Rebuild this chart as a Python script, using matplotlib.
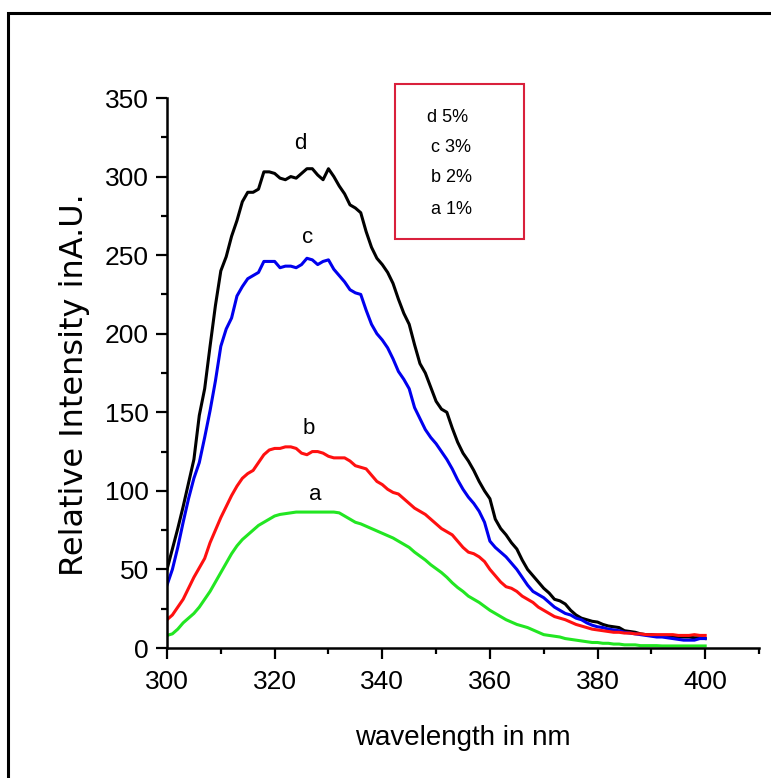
import matplotlib
matplotlib.use("Agg")
import matplotlib.pyplot as plt
from matplotlib.patches import Rectangle
from matplotlib.ticker import MultipleLocator

# wavelength grid, 1 nm steps
wavelength = list(range(300, 401))

# d 5%  (black)
d_5 = [50, 63, 76, 90, 105, 120, 148, 165, 192, 218,
       240, 249, 262, 272, 284, 290, 290, 292, 303, 303,
       302, 299, 298, 300, 299, 302, 305, 305, 301, 298,
       305, 300, 294, 289, 282, 280, 277, 265, 255, 248,
       244, 239, 232, 222, 213, 206, 193, 181, 175, 166,
       157, 152, 150, 140, 131, 124, 119, 113, 106, 100,
       95, 82, 76, 72, 67, 63, 56, 50, 46, 42,
       38, 35, 31, 30, 28, 24, 21, 19, 18, 17,
       16.5, 15, 14, 13.5, 13, 11, 10.5, 10, 9, 8.5,
       8.5, 8, 8, 8, 7.5, 7, 7, 7, 6.5, 6.5, 6]

# c 3%  (blue)
c_3 = [40, 50, 64, 80, 95, 108, 118, 134, 151, 170,
       192, 203, 210, 224, 230, 235, 237, 239, 246, 246,
       246, 242, 243, 243, 242, 244, 248, 247, 244, 246,
       247, 241, 237, 233, 228, 226, 225, 215, 206, 200,
       196, 191, 184, 176, 171, 165, 153, 146, 139, 134,
       130, 125, 120, 114, 107, 101, 96, 92, 87, 80,
       68, 64, 61, 58, 54, 50, 45, 40, 36, 34,
       32, 29, 26, 24, 22, 21, 19, 18, 16, 14.5,
       13.5, 13, 12, 11.5, 11, 10, 9.5, 9, 8.5, 8,
       7.5, 7, 7, 6.5, 6, 5.5, 5, 5, 5, 6, 6]

# b 2%  (red)
b_2 = [18, 21, 26, 31, 38, 45, 51, 57, 67, 75,
       83, 90, 97, 103, 108, 111, 113, 118, 123, 126,
       127, 127, 128, 128, 127, 124, 123, 125, 125, 124,
       122, 121, 121, 121, 119, 116, 115, 114, 110, 106,
       104, 101, 99, 98, 95, 92, 89, 87, 85, 82,
       79, 76, 74, 72, 68, 64, 61, 60, 58, 55,
       50, 46, 42, 39, 38, 36, 33, 31, 29, 26,
       24, 22, 20, 19, 18, 16.5, 15, 14, 13, 12,
       11.5, 11, 10.5, 10, 10, 9.5, 9.5, 9, 9, 8.5,
       8.5, 8.5, 8.5, 8.5, 8.5, 8, 8, 8, 8.5, 8, 8]

# a 1%  (green)
a_1 = [8, 9, 12, 16, 19, 22, 26, 31, 36, 42,
       48, 54, 60, 65, 69, 72, 75, 78, 80, 82,
       84, 85, 85.5, 86, 86.5, 86.5, 86.5, 86.5, 86.5, 86.5,
       86.5, 86.5, 86, 84, 82, 80, 79, 77.5, 76, 74.5,
       73, 71.5, 70, 68, 66, 64, 61, 58.5, 56, 53,
       50.5, 48, 45, 41.5, 38.5, 36, 33, 31, 29, 26.5,
       24, 22, 20, 18, 16.5, 15, 14, 13, 11.5, 10,
       8.5, 8, 7.5, 7, 6, 5.5, 5, 4.5, 4, 3.5,
       3.5, 3, 3, 2.5, 2.5, 2, 2, 2, 1.5, 1.5,
       1.5, 1.5, 1.3, 1.3, 1.3, 1.3, 1.3, 1.3, 1.3, 1.3, 1.3]

series_labels = ["d", "c", "b", "a"]
legend_lines = ["d 5%", "c 3%", "b 2%", "a 1%"]

fig = plt.figure(figsize=(7.71, 7.78), dpi=100)
ax = fig.add_axes([167 / 771, 1 - 648 / 778, 592 / 771, 550 / 778])

ax.plot(wavelength, d_5, color="black", lw=2.2)
ax.plot(wavelength, c_3, color="#0000ee", lw=2.2)
ax.plot(wavelength, b_2, color="#ff1010", lw=2.2)
ax.plot(wavelength, a_1, color="#22e622", lw=2.2)

ax.set_xlim(300, 410)
ax.set_ylim(0, 350)
ax.xaxis.set_major_locator(MultipleLocator(20))
ax.xaxis.set_minor_locator(MultipleLocator(10))
ax.yaxis.set_major_locator(MultipleLocator(50))
ax.yaxis.set_minor_locator(MultipleLocator(25))

for side in ["top", "right"]:
    ax.spines[side].set_visible(False)
for side in ["left", "bottom"]:
    ax.spines[side].set_linewidth(1.8)

ax.tick_params(which="major", direction="out", length=8, width=1.6)
ax.tick_params(which="minor", direction="out", length=4.5, width=1.6)
ax.tick_params(axis="x", which="major", pad=8)
ax.tick_params(axis="y", which="major", pad=5)
for lab in ax.get_xticklabels() + ax.get_yticklabels():
    lab.set_fontfamily("Liberation Sans")
    lab.set_fontsize(19)

ax.set_xlabel("wavelength in nm", fontsize=20, family="Liberation Sans", labelpad=22)
ax.set_ylabel("Relative Intensity inA.U.", fontsize=23, family="DejaVu Sans")
ax.yaxis.set_label_coords(-0.13, 0.478)

# letters above each curve
label_x = [324.8, 326.2, 326.3, 327.5]
label_y = [317.7, 258, 136.4, 94]
for s, x, y in zip(series_labels, label_x, label_y):
    ax.text(x, y, s, ha="center", va="baseline", fontsize=16, family="Liberation Sans")

# red box with the concentrations
fig.patches.append(Rectangle((395 / 771, 1 - 239 / 778), 129 / 771, 155 / 778,
                             transform=fig.transFigure, fill=False,
                             edgecolor="#d9203c", lw=1.5))
legend_y = [117, 147, 178, 209]
for i, (txt, yy) in enumerate(zip(legend_lines, legend_y)):
    xx = 427 if i == 0 else 431
    fig.text(xx / 771, 1 - yy / 778, txt, ha="left", va="center",
             fontsize=13, family="Liberation Sans")

# outer frame
fig.patches.append(Rectangle((8 / 771, -0.2), 1.5, 1.2 - 13 / 778 + 0.0,
                             transform=fig.transFigure, fill=False,
                             edgecolor="black", lw=2.2))

fig.savefig("out.png", dpi=100)
